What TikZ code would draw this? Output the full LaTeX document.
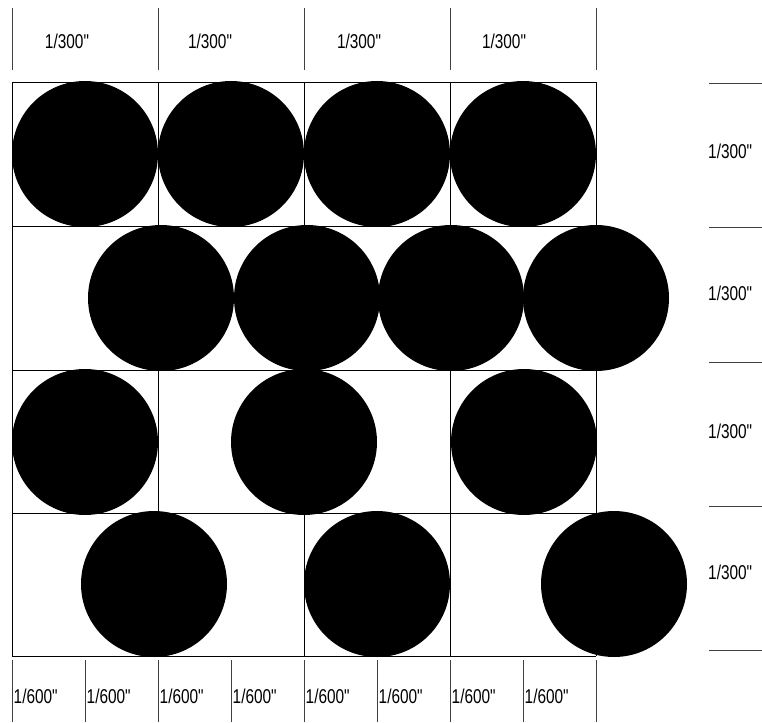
\documentclass[tikz,border=0pt]{standalone}
\usepackage{graphicx}
\usepackage{fontspec}
\setmainfont{Liberation Sans}[Ligatures=TeXOff]
\newcommand\dimtxt[1]{\scalebox{0.77}[1]{#1}}
\begin{document}
\begin{tikzpicture}[x=1pt,y=-1pt,
  dot/.style={circle,fill=black,inner sep=0pt,minimum size=146pt},
  gridline/.style={line width=0.9pt,black},
  tick/.style={line width=0.9pt,black!75},
  dimlabel/.style={inner sep=0pt,font=\fontsize{20}{20}\selectfont}]
\useasboundingbox (0,0) rectangle (762,722);
% grid
\foreach \y in {82,226,370,513,656} \draw[gridline] (12,\y) -- (596,\y);
\foreach \x in {12,158,304,450,596} \draw[gridline] (\x,82) -- (\x,656);
% row 1
\node[dot] (a1) at (85,154) {};
\node[dot] (a2) at (231,154) {};
\node[dot] (a3) at (377,154) {};
\node[dot] (a4) at (523,154) {};
% row 2
\node[dot] (b1) at (161,298) {};
\node[dot] (b2) at (307,298) {};
\node[dot] (b3) at (451,298) {};
\node[dot] (b4) at (596,298) {};
% row 3
\node[dot] (c1) at (85,442) {};
\node[dot] (c2) at (304,442) {};
\node[dot] (c3) at (524,442) {};
% row 4
\node[dot] (d1) at (154,584) {};
\node[dot] (d2) at (377,584) {};
\node[dot] (d3) at (614,584) {};
% top dimension ticks
\foreach \x/\n in {12/1,158/2,304/3,450/4,596/5} {
  \coordinate (tt\n) at (\x,8); \coordinate (tb\n) at (\x,70);
  \draw[tick] (tt\n) -- (tb\n);
}
\node[dimlabel] (t1) at (67,41) {\dimtxt{1/300"}};
\node[dimlabel] (t2) at (210,41) {\dimtxt{1/300"}};
\node[dimlabel] (t3) at (359,41) {\dimtxt{1/300"}};
\node[dimlabel] (t4) at (504,41) {\dimtxt{1/300"}};
% right dimension lines
\foreach \y/\n in {83/1,227/2,362/3,506/4,650/5} {
  \coordinate (rl\n) at (709,\y); \coordinate (rr\n) at (762,\y);
  \draw[tick] (rl\n) -- (rr\n);
}
\node[dimlabel,anchor=west] (r1) at (708,151) {\dimtxt{1/300"}};
\node[dimlabel,anchor=west] (r2) at (708,293) {\dimtxt{1/300"}};
\node[dimlabel,anchor=west] (r3) at (708,431) {\dimtxt{1/300"}};
\node[dimlabel,anchor=west] (r4) at (708,572) {\dimtxt{1/300"}};
% bottom dimension ticks
\foreach \x/\n in {12/1,85/2,158/3,231/4,304/5,377/6,450/7,523/8,596/9} {
  \coordinate (bt\n) at (\x,660); \coordinate (bb\n) at (\x,722);
  \draw[tick] (bt\n) -- (bb\n);
}
\foreach \x/\n in {12/1,85/2,158/3,231/4,304/5,377/6,450/7,523/8} {
  \node[dimlabel,anchor=west] (s\n) at (\x+1.5,696) {\dimtxt{1/600"}};
}
\end{tikzpicture}
\end{document}
